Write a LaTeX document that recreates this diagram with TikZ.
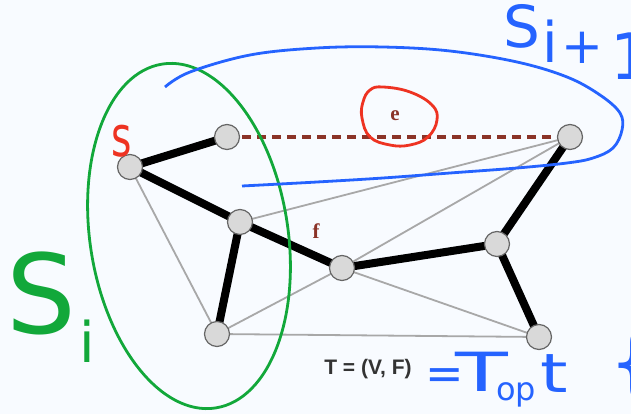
\documentclass[tikz,border=0pt]{standalone}
\usepackage{fontspec}
\setmainfont{Liberation Sans}
\newfontfamily\handfont{DejaVu Sans}
\newfontfamily\labfont{Liberation Serif}
\definecolor{bgc}{HTML}{F8FBFF}
\definecolor{hgreen}{HTML}{12A83A}
\definecolor{hblue}{HTML}{2563FF}
\definecolor{hred}{HTML}{EE3322}
\definecolor{ebrown}{HTML}{8B3328}
\definecolor{nodefill}{HTML}{D9D9D9}
\definecolor{nodeline}{HTML}{666666}
\definecolor{thingray}{HTML}{A8A8A8}
\definecolor{tlabel}{HTML}{333333}
\begin{document}
\begin{tikzpicture}[x=1pt,y=-1pt,
  vtx/.style={circle,fill=nodefill,draw=nodeline,line width=1.2pt,minimum size=25pt,inner sep=0pt},
  tree/.style={line width=8pt,black},
  other/.style={line width=1.8pt,draw=thingray},
  nontree/.style={line width=3.6pt,ebrown,dash pattern=on 9pt off 6pt},
  elab/.style={text=ebrown,font=\labfont\bfseries\fontsize{21}{21}\selectfont},
  hand/.style={inner sep=0pt,anchor=base west}]
\fill[bgc] (0,0) rectangle (631,414);
\useasboundingbox (0,0) rectangle (631,414);
% edges first
\coordinate (pA) at (130,167);
\coordinate (pB) at (227,137);
\coordinate (pC) at (570,137);
\coordinate (pD) at (240,222);
\coordinate (pE) at (342,268);
\coordinate (pF) at (497,244);
\coordinate (pG) at (217,334);
\coordinate (pH) at (539,337);
\draw[other] (pA) -- (pG);
\draw[other] (pD) -- (pC);
\draw[other] (pE) -- (pC);
\draw[other] (pG) -- (pE);
\draw[other] (pG) -- (pH);
\draw[other] (pE) -- (pH);
\draw[nontree] (pB) -- (pC);
\draw[tree] (pA) -- (pB);
\draw[tree] (pA) -- (pD);
\draw[tree] (pD) -- (pE);
\draw[tree] (pD) -- (pG);
\draw[tree] (pE) -- (pF);
\draw[tree] (pF) -- (pC);
\draw[tree] (pF) -- (pH);
\node[vtx] (A) at (pA) {};
\node[vtx] (B) at (pB) {};
\node[vtx] (C) at (pC) {};
\node[vtx] (D) at (pD) {};
\node[vtx] (E) at (pE) {};
\node[vtx] (F) at (pF) {};
\node[vtx] (G) at (pG) {};
\node[vtx] (H) at (pH) {};
\node[elab] (le) at (395,116) {e};
\node[elab] (lf) at (316,231) {f};
\node[text=tlabel,font=\bfseries\fontsize{21}{21}\selectfont] (tl) at (368,369) {T = (V, F)};
% green set S_i
\draw[hgreen,line width=2.8pt,shift={(189,236)},rotate=8.8] (0,0) ellipse [x radius=99pt, y radius=174pt];
\node[hand,text=hgreen,font=\handfont\fontsize{110}{110}\selectfont] (Si) at (6,333) {S};
\node[hand,text=hgreen,font=\handfont\fontsize{56}{56}\selectfont] (Sii) at (79,362) {i};
% blue set S_{i+1}
\draw[hblue,line width=2.8pt] plot[smooth,tension=0.6] coordinates {(165,87) (190,72) (250,55) (317,48) (383,47) (450,51) (517,62) (567,77) (600,95) (620,113) (622,130) (613,148) (593,158) (567,163) (517,168) (450,173) (383,178) (317,182) (242,186)};
\node[hand,text=hblue,font=\handfont\fontsize{58}{58}\selectfont] (Sb) at (503,48) {S};
\node[hand,text=hblue,font=\handfont\fontsize{56}{56}\selectfont] (Sbi) at (542,63) {i};
\node[hand,text=hblue,font=\handfont\fontsize{50}{50}\selectfont] (Sbp) at (561,64) {+};
\node[hand,text=hblue,font=\handfont\fontsize{64}{64}\selectfont] (Sb1) at (610,80) {1};
% red annotations
\draw[hred,line width=2.8pt] plot[smooth cycle,tension=0.7] coordinates {(383,87) (410,92) (432,105) (437,120) (428,137) (410,145) (390,145) (370,137) (362,118) (363,102) (370,90)};
\node[hand,text=hred,font=\handfont\fontsize{56}{56}\selectfont] (sl) at (111,157) {\scalebox{0.7}[1]{s}};
% = T_opt
\node[hand,text=hblue,font=\handfont\fontsize{46}{46}\selectfont] (eq) at (425,389) {=};
\node[hand,text=hblue,font=\handfont\fontsize{54}{54}\selectfont] (To) at (455,391) {\scalebox{1.6}[1]{T}};
\node[hand,text=hblue,font=\handfont\fontsize{32}{32}\selectfont] (op) at (496,400) {op};
\node[hand,text=hblue,font=\handfont\fontsize{54}{54}\selectfont] (tt) at (540,392) {\scalebox{1.3}[1]{t}};
\node[hand,text=hblue,font=\handfont\fontsize{76}{76}\selectfont] (br) at (609,388) {\{};
\end{tikzpicture}
\end{document}
